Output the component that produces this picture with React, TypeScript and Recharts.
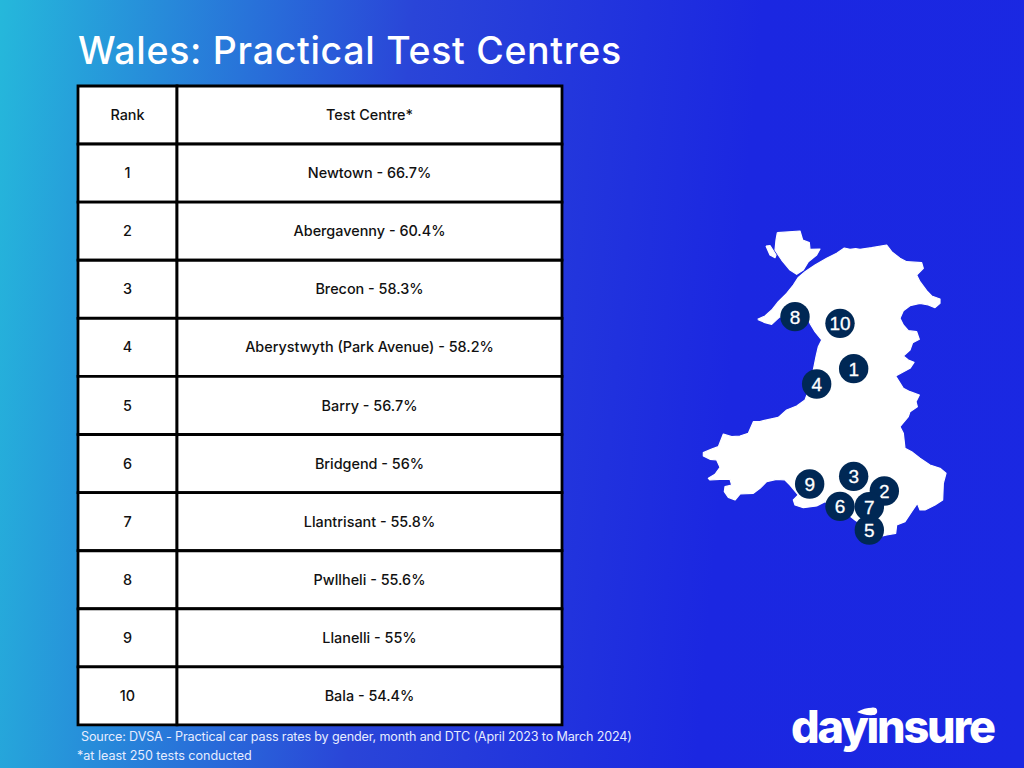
import { BarChart, Bar, LabelList, XAxis, YAxis, ScatterChart, Scatter } from "recharts";

const FONT = "Inter, sans-serif";
const NAVY = "#002855";

const ranks = [1, 2, 3, 4, 5, 6, 7, 8, 9, 10];
const centres = [
  "Newtown",
  "Abergavenny",
  "Brecon",
  "Aberystwyth (Park Avenue)",
  "Barry",
  "Bridgend",
  "Llantrisant",
  "Pwllheli",
  "Llanelli",
  "Bala",
];
const passRates = [66.7, 60.4, 58.3, 58.2, 56.7, 56, 55.8, 55.6, 55, 54.4];

// map units, y runs downwards
const pinEast = [491, 583, 491, 380, 538, 450, 538, 315, 359, 450];
const pinSouth = [446, 813, 769, 492, 930, 859, 860, 290, 792, 310];

const mainland = [
  [203, 298], [225, 288], [245, 270], [265, 245], [290, 220], [310, 195], [325, 172], [345, 155],
  [375, 135], [410, 115], [440, 100], [463, 84], [480, 88], [497, 86], [510, 88], [545, 83],
  [590, 75], [605, 95], [630, 115], [650, 125], [695, 128], [700, 145], [680, 165], [690, 185],
  [710, 212], [725, 228], [750, 237], [750, 250], [735, 263], [715, 255], [690, 250], [660, 257],
  [640, 272], [630, 295], [640, 315], [655, 332], [680, 335], [688, 358], [668, 368], [660, 390],
  [640, 408], [655, 420], [672, 427], [660, 445], [635, 458], [617, 468], [640, 505], [660, 515],
  [688, 525], [678, 545], [682, 560], [660, 575], [655, 590], [630, 620], [640, 640], [645, 685],
  [665, 695], [690, 715], [720, 735], [750, 745], [768, 760], [760, 790], [758, 840], [735, 855],
  [705, 870], [690, 870], [682, 850], [665, 875], [645, 905], [620, 915], [617, 940], [590, 945],
  [578, 948], [540, 930], [495, 900], [480, 888], [405, 845], [380, 858], [340, 863], [315, 855],
  [310, 840], [325, 825], [300, 795], [285, 780], [260, 778], [230, 785], [210, 805], [190, 820],
  [150, 822], [135, 840], [115, 832], [103, 815], [105, 800], [125, 795], [120, 778], [90, 778],
  [60, 780], [55, 775], [75, 763], [90, 742], [80, 720], [60, 718], [40, 708], [40, 698],
  [65, 687], [85, 680], [100, 642], [125, 650], [150, 648], [175, 640], [190, 605], [210, 605],
  [220, 602], [265, 592], [290, 570], [320, 558], [345, 540], [360, 500], [378, 410], [385, 380],
  [395, 360], [375, 335], [360, 310], [355, 300], [270, 290], [245, 313], [225, 308],
];
const anglesey = [
  [262, 38], [330, 33], [338, 60], [358, 68], [360, 88], [390, 87], [380, 105], [355, 125],
  [340, 150], [320, 163], [300, 150], [275, 120], [255, 90], [258, 60],
];
const holyIsland = [[228, 78], [240, 77], [258, 105], [255, 113], [240, 105]];

const tableRows = [
  { rank: "Rank", centre: "Test Centre*" },
  ...ranks.map((r, i) => ({ rank: r, centre: `${centres[i]} - ${passRates[i]}%` })),
];
const pins = ranks.map((r, i) => ({ rank: r, east: pinEast[i], south: pinSouth[i] }));
const toPoints = (shape: number[][]) =>
  [...shape, shape[0]].map(([east, south]) => ({ east, south }));

function Pin({ cx, cy, payload }: any) {
  return (
    <g>
      <circle cx={cx} cy={cy} r={14.7} fill={NAVY} />
      <text
        x={cx}
        y={cy}
        dy="0.36em"
        textAnchor="middle"
        fontSize={19}
        fontFamily="Liberation Sans, sans-serif"
        fill="#fff"
        stroke="#fff"
        strokeWidth={0.3}
      >
        {payload.rank}
      </text>
    </g>
  );
}

function Land({ points }: { points: number[][] }) {
  return (
    <Scatter
      data={toPoints(points)}
      line={{ stroke: "#fff", strokeWidth: 1.2, fill: "#fff", strokeLinejoin: "round" }}
      shape={() => null}
      isAnimationActive={false}
    />
  );
}

export default function App() {
  const labelStyle = { fontSize: 14.4, fontWeight: 500, fontFamily: FONT, fill: "#111" };
  const noteStyle = { position: "absolute", fontSize: 12.6, color: "#E6ECFF", whiteSpace: "nowrap", lineHeight: "16px" } as const;
  return (
    <div
      style={{
        position: "absolute",
        left: 0,
        top: 0,
        width: 1024,
        height: 768,
        overflow: "hidden",
        fontFamily: FONT,
        background: "linear-gradient(95deg, #25B8DB 0%, #2A45D8 38%, #1B27E1 70%, #1A28E2 100%)",
      }}
    >
      <div style={{ position: "absolute", left: 78, top: 28, fontSize: 37.5, fontWeight: 500, letterSpacing: 0.7, color: "#fff", whiteSpace: "nowrap", lineHeight: "46px" }}>
        Wales: Practical Test Centres
      </div>

      <div style={{ position: "absolute", left: 0, top: 0 }}>
        <BarChart
          width={1024}
          height={768}
          layout="vertical"
          data={tableRows}
          barCategoryGap={0}
          margin={{ top: 86, right: 462, bottom: 43, left: 78 }}
        >
          <XAxis type="number" hide domain={[0, 484]} />
          <YAxis type="category" dataKey="rank" hide />
          <Bar dataKey={() => 99} stackId="row" fill="#fff" stroke="#000" strokeWidth={2.8} isAnimationActive={false}>
            <LabelList dataKey="rank" position="center" style={labelStyle} />
          </Bar>
          <Bar dataKey={() => 385} stackId="row" fill="#fff" stroke="#000" strokeWidth={2.8} isAnimationActive={false}>
            <LabelList dataKey="centre" position="center" style={labelStyle} />
          </Bar>
        </BarChart>
      </div>

      <div style={{ position: "absolute", left: 690, top: 220 }}>
        <ScatterChart width={270} height={330} margin={{ top: 0, right: 0, bottom: 0, left: 0 }}>
          <XAxis type="number" dataKey="east" hide domain={[0, 810]} />
          <YAxis type="number" dataKey="south" hide domain={[0, 990]} reversed />
          {Land({ points: mainland })}
          {Land({ points: anglesey })}
          {Land({ points: holyIsland })}
          <Scatter data={pins} shape={Pin} isAnimationActive={false} />
        </ScatterChart>
      </div>

      <div style={{ ...noteStyle, left: 81, top: 729, letterSpacing: -0.15 }}>
        Source: DVSA - Practical car pass rates by gender, month and DTC (April 2023 to March 2024)
      </div>
      <div style={{ ...noteStyle, left: 77, top: 748, letterSpacing: -0.03 }}>*at least 250 tests conducted</div>

      <div style={{ position: "absolute", left: 791, top: 700, fontSize: 45, fontWeight: 800, letterSpacing: -2.2, color: "#fff", whiteSpace: "nowrap", lineHeight: "54px" }}>
        dayinsure
      </div>
      <svg width={24} height={12} style={{ position: "absolute", left: 855, top: 706 }}>
        <path d="M2 6 C8 2 16 1 21 2 C23 5 22 9 18 9 C13 10 7 8 2 6 Z" fill="#fff" />
      </svg>
    </div>
  );
}
